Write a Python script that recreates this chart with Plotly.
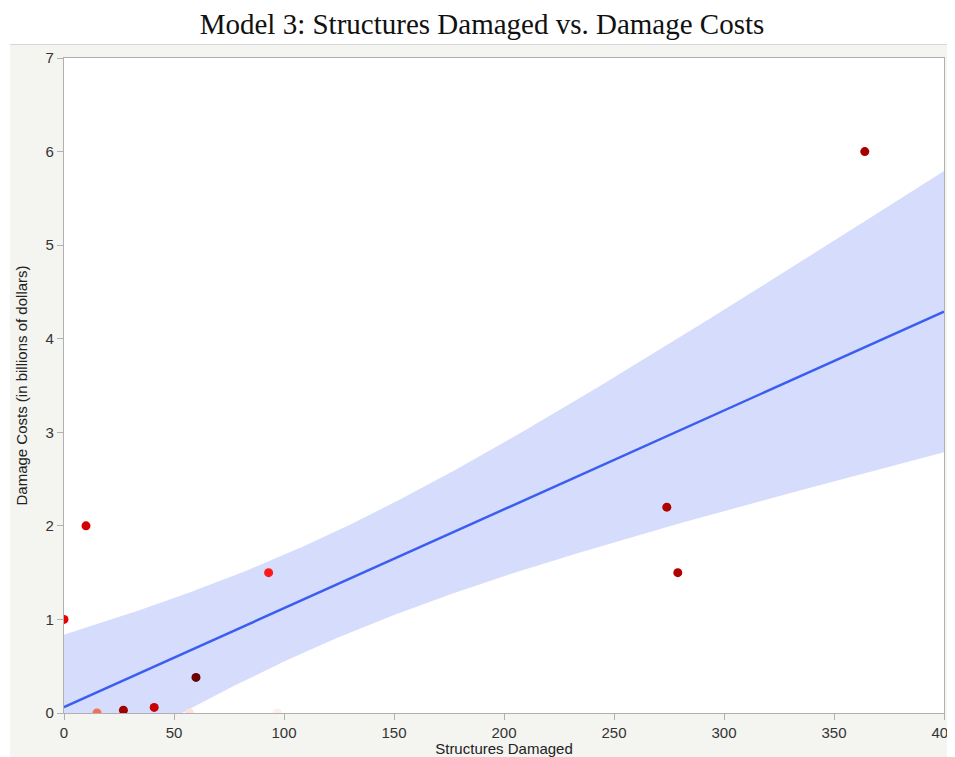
import numpy as np
import plotly.graph_objects as go

# ---- data ----
structures_damaged = [0, 10, 15, 27, 41, 57, 60, 97, 93, 274, 279, 364]
damage_costs = [1.0, 2.0, 0.0, 0.03, 0.06, 0.0, 0.38, 0.0, 1.5, 2.2, 1.5, 6.0]
point_colors = ["#e80000", "#d40000", "#f4704e", "#a00000", "#c80000", "#fde2d8",
                "#6a0000", "#fdefea", "#ff1a1a", "#b00000", "#b00000", "#a80000"]
x_ticks = [0, 50, 100, 150, 200, 250, 300, 350, 400]
y_ticks = [0, 1, 2, 3, 4, 5, 6, 7]
T_MULT = 1.68  # confidence multiplier for the band

# ---- OLS fit and confidence band ----
x = np.array(structures_damaged, float)
y = np.array(damage_costs, float)
n = len(x)
mx = x.mean()
sxx = ((x - mx) ** 2).sum()
slope = ((x - mx) * (y - y.mean())).sum() / sxx
intercept = y.mean() - slope * mx
resid = y - (intercept + slope * x)
s = np.sqrt((resid ** 2).sum() / (n - 2))
xg = np.linspace(0, 400, 201)
yg = intercept + slope * xg
hw = T_MULT * s * np.sqrt(1 / n + (xg - mx) ** 2 / sxx)
upper = yg + hw
lower = yg - hw

fig = go.Figure()
fig.add_trace(go.Scatter(x=np.concatenate([xg, xg[::-1]]), y=np.concatenate([upper, lower[::-1]]),
                         fill="toself", fillcolor="#d6dcfb", line=dict(width=0),
                         hoverinfo="skip", showlegend=False))
fig.add_trace(go.Scatter(x=xg, y=yg, mode="lines", line=dict(color="#3a5ef2", width=2.5),
                         showlegend=False))
fig.add_trace(go.Scatter(x=structures_damaged, y=damage_costs, mode="markers",
                         marker=dict(color=point_colors, size=9, line=dict(width=0)),
                         showlegend=False))

# page has an 8px body margin, so figure coordinates are offset by 8px
W, H = 955, 749
L, T = 56, 50
pw, ph = 880, 655
R, B = W - L - pw, H - T - ph
fig.add_shape(type="rect", xref="paper", yref="paper", layer="below",
              x0=(2 - L) / pw, x1=1 + (R + 2) / pw, y0=-(B + 20) / ph, y1=1 + (T - 37) / ph,
              fillcolor="#f4f4f0", line=dict(width=0))
fig.add_shape(type="rect", xref="paper", yref="paper", layer="below",
              x0=0, x1=1, y0=0, y1=1, fillcolor="white", line=dict(width=0))
fig.add_shape(type="line", xref="paper", yref="paper", layer="below",
              x0=(2 - L) / pw, x1=1 + (R + 2) / pw, y0=1 + (T - 36.5) / ph, y1=1 + (T - 36.5) / ph,
              line=dict(color="#d8d8d8", width=1))

axis_common = dict(showgrid=False, zeroline=False, showline=True, mirror=True, automargin=False,
                   linecolor="#b0b0b0", linewidth=1.2, ticks="outside", ticklen=6,
                   tickcolor="#b0b0b0", tickfont=dict(family="Liberation Sans, Arial", size=15, color="#333333"))
fig.update_xaxes(range=[0, 400], tickvals=x_ticks, **axis_common,
                 title=dict(text="Structures Damaged", standoff=5,
                            font=dict(family="Liberation Sans, Arial", size=15, color="#222222")))
fig.update_yaxes(range=[0, 7], tickvals=y_ticks, **axis_common,
                 title=dict(text="Damage Costs (in billions of dollars)", standoff=14,
                            font=dict(family="Liberation Sans, Arial", size=15, color="#222222")))

fig.update_layout(
    width=W, height=H,
    margin=dict(l=L, r=R, t=T, b=B, autoexpand=False),
    paper_bgcolor="white", plot_bgcolor="white",
    title=dict(text="Model 3: Structures Damaged vs. Damage Costs", x=(482 - 8) / W, xanchor="center",
               y=1 - 16 / H, yanchor="middle",
               font=dict(family="Liberation Serif, Times New Roman", size=29, color="#111111")),
)
fig.write_html("out.html")
